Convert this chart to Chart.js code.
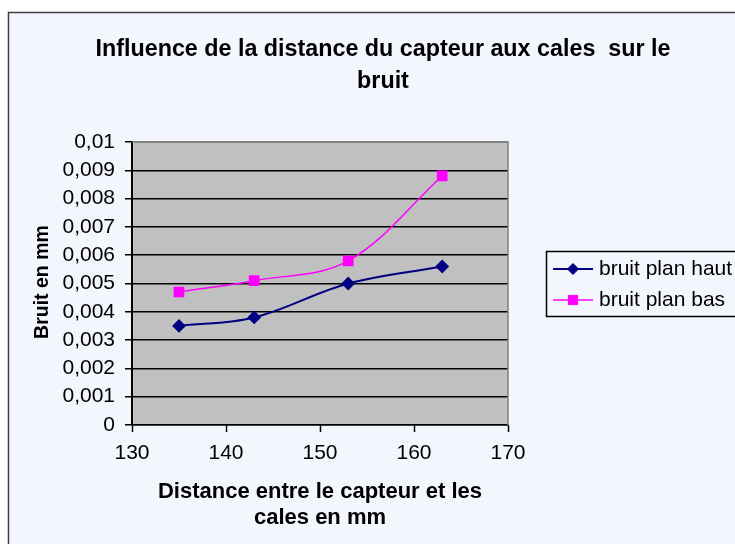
<!DOCTYPE html>
<html>
<head>
<meta charset="utf-8">
<script src="https://cdn.jsdelivr.net/npm/chart.js@4/dist/chart.umd.min.js"></script>
<style>
html,body{margin:0;padding:0;background:#fff;overflow:hidden;}
canvas{display:block;}
</style>
</head>
<body>
<canvas id="c" width="735" height="544"></canvas>
<script>
// ---- data ----
const distances = [135, 143, 153, 163];
const bruitPlanHaut = [0.0035, 0.0038, 0.0050, 0.0056];
const bruitPlanBas = [0.0047, 0.0051, 0.0058, 0.0088];
const seriesNames = ['bruit plan haut', 'bruit plan bas'];
const yTickLabels = ['0', '0,001', '0,002', '0,003', '0,004', '0,005', '0,006', '0,007', '0,008', '0,009', '0,01'];
const xTickLabels = ['130', '140', '150', '160', '170'];
const titleLines = ['Influence de la distance du capteur aux cales  sur le', 'bruit'];
const xTitleLines = ['Distance entre le capteur et les', 'cales en mm'];
const yTitle = 'Bruit en mm';

const FONT = "'Liberation Sans', Arial, sans-serif";
const BG = '#F3F6FC';
const NAVY = '#000080';
const PINK = '#FF00FF';

const decorPlugin = {
  id: 'decor',
  beforeDraw(chart) {
    const ctx = chart.ctx;
    const a = chart.chartArea;
    ctx.save();
    ctx.fillStyle = '#ffffff';
    ctx.fillRect(0, 0, chart.width, chart.height);
    ctx.fillStyle = BG;
    ctx.fillRect(8, 12, chart.width, chart.height);
    ctx.strokeStyle = '#404040';
    ctx.lineWidth = 1.5;
    ctx.strokeRect(8.5, 12.5, chart.width + 10, chart.height + 10);
    ctx.fillStyle = '#C0C0C0';
    ctx.fillRect(a.left, a.top, a.right - a.left, a.bottom - a.top);
    ctx.restore();
  },
  beforeDatasetsDraw(chart) {
    const ctx = chart.ctx;
    const a = chart.chartArea;
    ctx.save();
    ctx.strokeStyle = '#808080';
    ctx.lineWidth = 1.5;
    ctx.beginPath();
    ctx.moveTo(a.left, a.top);
    ctx.lineTo(a.right, a.top);
    ctx.lineTo(a.right, a.bottom);
    ctx.stroke();
    ctx.restore();
  },
  afterDraw(chart) {
    const ctx = chart.ctx;
    ctx.save();
    ctx.fillStyle = '#000';
    // main title
    ctx.font = 'bold 23.3px ' + FONT;
    ctx.textAlign = 'center';
    ctx.textBaseline = 'alphabetic';
    ctx.fillText(titleLines[0], 383, 56);
    ctx.fillText(titleLines[1], 383, 88);
    // x title
    ctx.font = 'bold 22px ' + FONT;
    ctx.fillText(xTitleLines[0], 320, 498);
    ctx.fillText(xTitleLines[1], 320, 524);
    // y title
    ctx.save();
    ctx.translate(48, 282);
    ctx.rotate(-Math.PI / 2);
    ctx.font = 'bold 19.5px ' + FONT;
    ctx.fillText(yTitle, 0, 0);
    ctx.restore();
    // legend
    const lx = 546, ly = 251, lw = 260, lh = 65;
    ctx.fillStyle = BG;
    ctx.fillRect(lx, ly, lw, lh);
    ctx.strokeStyle = '#000';
    ctx.lineWidth = 1.5;
    ctx.strokeRect(lx + 0.5, ly + 0.5, lw, lh);
    const rows = [269, 300];
    chart.data.datasets.forEach((ds, i) => {
      const y = rows[i];
      ctx.strokeStyle = ds.borderColor;
      ctx.lineWidth = ds.borderWidth;
      ctx.beginPath();
      ctx.moveTo(553, y);
      ctx.lineTo(593, y);
      ctx.stroke();
      ctx.fillStyle = ds.pointBackgroundColor;
      ctx.strokeStyle = ds.pointBorderColor;
      ctx.lineWidth = 1;
      Chart.helpers.drawPoint(ctx, {pointStyle: ds.pointStyle, radius: ds.pointRadius, rotation: 0, borderWidth: 1}, 573, y);
      ctx.fillStyle = '#000';
      ctx.font = '21px ' + FONT;
      ctx.textAlign = 'left';
      ctx.textBaseline = 'middle';
      ctx.fillText(ds.label, 599, y);
    });
    ctx.restore();
  }
};

const toPoints = (xs, ys) => xs.map((x, i) => ({x: x, y: ys[i]}));

new Chart(document.getElementById('c'), {
  type: 'line',
  data: {
    datasets: [
      {
        label: seriesNames[0],
        data: toPoints(distances, bruitPlanHaut),
        borderColor: NAVY,
        backgroundColor: NAVY,
        pointBackgroundColor: NAVY,
        pointBorderColor: NAVY,
        pointStyle: 'rectRot',
        pointRadius: 5.5,
        borderWidth: 2,
        tension: 0.35,
        fill: false
      },
      {
        label: seriesNames[1],
        data: toPoints(distances, bruitPlanBas),
        borderColor: PINK,
        backgroundColor: PINK,
        pointBackgroundColor: PINK,
        pointBorderColor: PINK,
        pointStyle: 'rect',
        pointRadius: 6.5,
        borderWidth: 1.5,
        tension: 0.35,
        fill: false
      }
    ]
  },
  options: {
    responsive: false,
    animation: false,
    devicePixelRatio: 1,
    layout: {padding: {top: 142, left: 0, right: 227, bottom: 0}},
    plugins: {legend: {display: false}, title: {display: false}, tooltip: {enabled: false}},
    scales: {
      x: {
        type: 'linear',
        min: 130, max: 170,
        afterFit(scale) { scale.height = 119; },
        ticks: {
          stepSize: 10,
          color: '#000',
          font: {family: FONT, size: 21},
          padding: 9,
          callback: (v, i) => xTickLabels[i]
        },
        grid: {drawOnChartArea: false, tickLength: 7, tickColor: '#000', tickWidth: 1.5},
        border: {color: '#000', width: 1.5}
      },
      y: {
        type: 'linear',
        min: 0, max: 0.01,
        afterFit(scale) { scale.width = 132; },
        ticks: {
          stepSize: 0.001,
          color: '#000',
          font: {family: FONT, size: 21},
          padding: 10,
          callback: (v, i) => yTickLabels[i]
        },
        grid: {
          color: (c) => (c.index === 10 ? '#808080' : '#000'),
          lineWidth: 1.5,
          tickLength: 7,
          tickColor: '#000',
          tickWidth: 1.5
        },
        border: {color: '#000', width: 2}
      }
    }
  },
  plugins: [decorPlugin]
});
</script>
</body>
</html>
